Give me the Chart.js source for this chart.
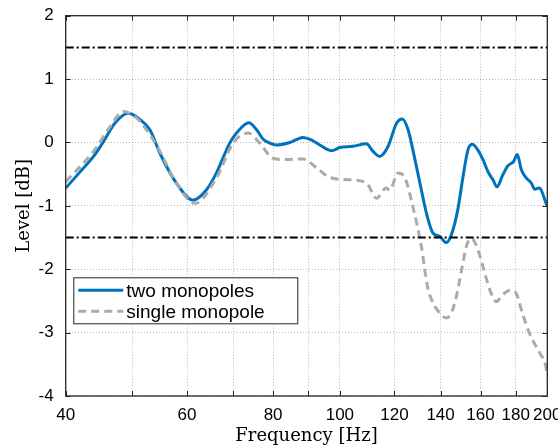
<!DOCTYPE html>
<html>
<head>
<meta charset="utf-8">
<title>Level vs Frequency</title>
<script src="https://cdn.jsdelivr.net/npm/chart.js@4.4.1/dist/chart.umd.min.js"></script>
<style>
    html, body { margin: 0; padding: 0; background: #fff; }
    #chart { display: block; }
</style>
</head>
<body>
<canvas id="chart" width="558" height="445"></canvas>
<script>
    // two monopoles (solid blue)
    const twoFreq  = [40, 42, 43.9, 45.3, 47.2, 49.3, 51.3, 53, 54.8, 57.9, 61.2, 64, 66.2, 69.2, 70.8, 73.8, 75.7, 77.4, 79.1, 80.9, 84.6, 88.4, 90.9, 93.5, 97.2, 100, 104.5, 109.3, 111.7, 114.2, 117.5, 120.8, 123.2, 125.6, 128.4, 131.3, 133.5, 136.5, 139.6, 142.7, 145.1, 148.3, 150.9, 153.4, 155.6, 158.6, 161.3, 164, 166.8, 169, 172.4, 175.3, 178.7, 180.9, 183.4, 186.4, 189.6, 191.8, 194.6, 200];
    const twoLevel = [-0.72, -0.46, -0.22, 0.0, 0.31, 0.46, 0.36, 0.2, -0.17, -0.64, -0.91, -0.75, -0.48, -0.01, 0.15, 0.31, 0.2, 0.05, -0.01, -0.04, 0.0, 0.08, 0.04, -0.04, -0.13, -0.08, -0.06, -0.02, -0.14, -0.22, -0.06, 0.3, 0.37, 0.2, -0.25, -0.75, -1.11, -1.43, -1.48, -1.58, -1.46, -1.06, -0.54, -0.12, -0.03, -0.12, -0.27, -0.46, -0.59, -0.7, -0.51, -0.37, -0.3, -0.19, -0.43, -0.56, -0.64, -0.74, -0.72, -1.01];

    // single monopole (dashed grey)
    const singleFreq  = [40, 43.9, 46.4, 48.5, 50.3, 52.4, 54.8, 57.9, 61.6, 66.2, 70, 73.6, 76.5, 80, 83.6, 88.4, 92.5, 96.6, 103.3, 109.3, 113, 116.7, 118.1, 121.5, 124.4, 127.6, 131.3, 134, 136.5, 139.6, 142.7, 145.1, 147.6, 150.5, 152.6, 155, 158, 161.3, 165, 168.6, 172.4, 176.5, 180, 184, 188.4, 192, 195, 199, 200];
    const singleLevel = [-0.62, -0.14, 0.25, 0.49, 0.42, 0.2, -0.14, -0.64, -0.96, -0.56, -0.01, 0.15, -0.01, -0.25, -0.27, -0.26, -0.4, -0.55, -0.59, -0.64, -0.88, -0.72, -0.75, -0.48, -0.57, -1.01, -1.64, -2.27, -2.53, -2.69, -2.77, -2.69, -2.43, -1.96, -1.64, -1.51, -1.64, -1.96, -2.32, -2.51, -2.4, -2.33, -2.37, -2.69, -3.01, -3.19, -3.32, -3.53, -3.69];

    const refLevels = [1.5, -1.5];
    const xGridTicks = [40, 50, 60, 70, 80, 90, 100, 120, 140, 160, 180, 200];
    const xLabelTicks = [40, 60, 80, 100, 120, 140, 160, 180, 200];
    const yTicks = [-4, -3, -2, -1, 0, 1, 2];
    const seriesNames = ['two monopoles', 'single monopole'];

    const blue = '#0072BD';
    const grey = '#ABABAB';
    const axisColor = '#262626';
    const tickFont = { family: '"Liberation Sans", Arial, sans-serif', size: 17 };
    const titleFamily = '"DejaVu Serif", serif';

    const toPoints = (xs, ys) => xs.map((x, i) => ({x: x, y: ys[i]}));

    // frame, inward ticks and the boxed legend (MATLAB style)
    const framePlugin = {
        id: 'frame',
        afterDraw(chart) {
            const ctx = chart.ctx;
            const a = chart.chartArea;
            const xs = chart.scales.x, ys = chart.scales.y;
            ctx.save();
            ctx.strokeStyle = axisColor;
            ctx.lineWidth = 1;
            ctx.beginPath();
            xGridTicks.forEach(v => {
                const px = Math.round(xs.getPixelForValue(v)) + 0.5;
                ctx.moveTo(px, a.bottom); ctx.lineTo(px, a.bottom - 5);
                ctx.moveTo(px, a.top); ctx.lineTo(px, a.top + 5);
            });
            yTicks.forEach(v => {
                const py = Math.round(ys.getPixelForValue(v)) + 0.5;
                ctx.moveTo(a.left, py); ctx.lineTo(a.left + 5, py);
                ctx.moveTo(a.right, py); ctx.lineTo(a.right - 5, py);
            });
            ctx.stroke();
            ctx.lineWidth = 1.3;
            ctx.strokeRect(a.left, a.top, a.right - a.left, a.bottom - a.top);

            // legend box
            const bx = a.left + 7.6, by = a.bottom - 118.7, bw = 224, bh = 46;
            ctx.fillStyle = '#fff';
            ctx.fillRect(bx, by, bw, bh);
            ctx.lineWidth = 1;
            ctx.strokeStyle = axisColor;
            ctx.strokeRect(bx + 0.5, by + 0.5, bw, bh);
            const rows = [by + 13, by + 34];
            const styles = [{c: blue, d: []}, {c: grey, d: [8, 5]}];
            ctx.font = '19px "Liberation Sans", Arial, sans-serif';
            ctx.textBaseline = 'middle';
            rows.forEach((ry, i) => {
                ctx.strokeStyle = styles[i].c;
                ctx.setLineDash(styles[i].d);
                ctx.lineWidth = 3;
                ctx.beginPath();
                ctx.moveTo(bx + 5, ry); ctx.lineTo(bx + 50, ry);
                ctx.stroke();
                ctx.setLineDash([]);
                ctx.fillStyle = '#000';
                ctx.fillText(seriesNames[i], bx + 53, ry + 1);
            });
            ctx.restore();
        }
    };

    const datasets = [
        {
            label: seriesNames[0],
            data: toPoints(twoFreq, twoLevel),
            borderColor: blue,
            borderWidth: 3,
            cubicInterpolationMode: 'monotone',
            pointRadius: 0,
            order: 2
        },
        {
            label: seriesNames[1],
            data: toPoints(singleFreq, singleLevel),
            borderColor: grey,
            borderWidth: 3,
            borderDash: [8, 5],
            cubicInterpolationMode: 'monotone',
            pointRadius: 0,
            order: 1
        }
    ];
    refLevels.forEach(lv => {
        datasets.push({
            label: 'ref ' + lv,
            data: [{x: xGridTicks[0], y: lv}, {x: xGridTicks[xGridTicks.length - 1], y: lv}],
            borderColor: '#000',
            borderWidth: 2,
            borderDash: [8, 3, 2, 3],
            pointRadius: 0,
            order: 0
        });
    });

    new Chart(document.getElementById('chart'), {
        type: 'line',
        data: { datasets: datasets },
        options: {
            responsive: false,
            animation: false,
            devicePixelRatio: 1,
            layout: { padding: { left: 0, right: 10.7, top: 15.7, bottom: 0 } },
            plugins: { legend: { display: false }, tooltip: { enabled: false } },
            scales: {
                x: {
                    type: 'logarithmic',
                    min: 40,
                    max: 200,
                    afterBuildTicks: s => { s.ticks = xGridTicks.map(v => ({value: v})); },
                    afterFit: s => { s.height = 49; s.paddingLeft = 0; s.paddingRight = 0; },
                    ticks: {
                        autoSkip: false,
                        maxRotation: 0,
                        padding: 9,
                        color: '#000',
                        font: tickFont,
                        callback: v => xLabelTicks.includes(v) ? String(v) : ''
                    },
                    grid: { color: 'rgba(0,0,0,0.28)', lineWidth: 1, drawTicks: false },
                    border: { display: false, dash: [1, 2] },
                    title: {
                        display: true,
                        text: 'Frequency [Hz]',
                        color: '#000',
                        padding: { top: 0, bottom: 0 },
                        font: { family: titleFamily, size: 18, lineHeight: 1 }
                    }
                },
                y: {
                    type: 'linear',
                    min: -4,
                    max: 2,
                    afterBuildTicks: s => { s.ticks = yTicks.map(v => ({value: v})); },
                    afterFit: s => { s.width = 65.7; s.paddingTop = 0; s.paddingBottom = 0; },
                    ticks: {
                        padding: 12,
                        color: '#000',
                        font: tickFont,
                        callback: v => String(v)
                    },
                    grid: { color: 'rgba(0,0,0,0.28)', lineWidth: 1, drawTicks: false },
                    border: { display: false, dash: [1, 2] },
                    title: {
                        display: true,
                        text: 'Level [dB]',
                        color: '#000',
                        padding: { top: 14, bottom: 0 },
                        font: { family: titleFamily, size: 18, lineHeight: 1.2 }
                    }
                }
            }
        },
        plugins: [framePlugin]
    });
</script>
</body>
</html>
